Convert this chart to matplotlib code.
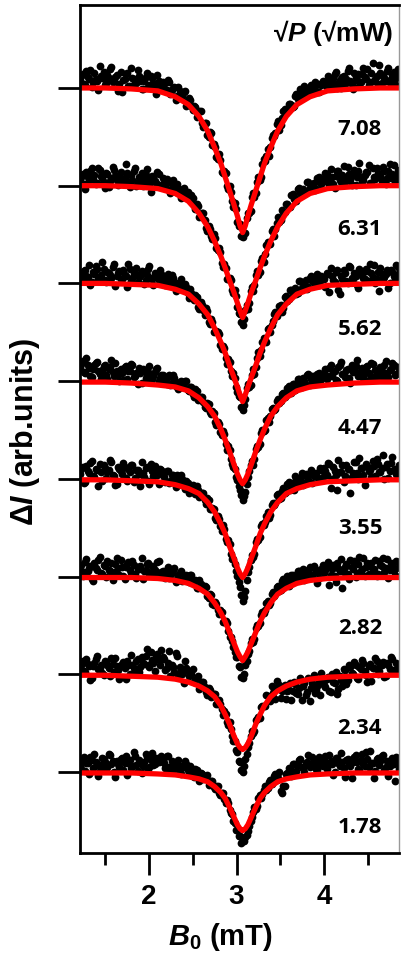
import numpy as np
import matplotlib.pyplot as plt

plt.rcParams['font.family'] = ['Liberation Sans', 'DejaVu Sans']
plt.rcParams['font.weight'] = 'bold'
plt.rcParams['mathtext.fontset'] = 'custom'
plt.rcParams['mathtext.rm'] = 'Liberation Sans:bold'
plt.rcParams['mathtext.it'] = 'Liberation Sans:italic:bold'
plt.rcParams['mathtext.bf'] = 'Liberation Sans:bold'
plt.rcParams['mathtext.sf'] = 'Liberation Sans'

# sqrt of microwave power, top trace first
powers = ['7.08', '6.31', '5.62', '4.47', '3.55', '2.82', '2.34', '1.78']

# field sweeps (mT): two interleaved passes, 0.03 mT steps each
field_a = np.linspace(1.21, 4.87, 123)
field_b = np.linspace(1.225, 4.855, 122)

# measured signal, arb. units relative to each trace baseline (pass a)
sig_708 = [8, 14, 3, 11, 18, 6, 9, -2, 12, 16, 5, 10, 21, 7, 13, 4, -4, 9, 15, 2,
           10, 5, 18, 7, -1, 11, 1, 12, 5, -6, 7, 1,
           4, -2, 6, -2, 1, -8, -3, -8, -3, -12, -12, -23, -19, -25, -24, -40, -36, -50, -46, -57,
           -71, -68, -86, -85, -100, -100, -116, -118, -137, -139, -153, -148, -128, -126, -107, -107,
           -91, -91, -73, -70, -70, -51, -49, -37, -43, -31, -22, -24, -16, -19, -8, -11, -1, -7, -1, -7,
           3, -1, 3, -4, 3,
           6, 1, 10, 5, 14, 0, 8, 11, 4, 17, 7, -1, 11, 14, 6, 20, 9, 3, 15, 7, 12, 24, 5, 10, 17, 8, 13, 4, 19, 11]
sig_631 = [5, 12, -3, 9, 15, 7, 2, 18, 10, 4, 13, -1, 8, 16, 6, 11, 3, 8, 13, -1, 6, 18, 4, 9, 0,
           11, 6, -6, 9, 3, 12, -1,
           3, 7, -4, 2, -4, 2, -7, -4, -12, -6, -14, -13, -24, -21, -29, -28, -43, -41, -51, -49,
           -64, -64, -79, -80, -95, -94, -107, -107, -124, -131, -143, -127, -126, -108, -108, -91,
           -91, -77, -78, -61, -60, -46, -52, -38, -37, -25, -27, -19, -22, -9, -13, -3, -7, -3, -8, 4,
           -1, 3, -3, 9, 2,
           5, 12, 1, 9, -2, 15, 6, 11, 4, 19, 6, 11, 1, 15, 9, 6, 14, 21, 3, 9, 18, 11, 5, 15, 8, 22, 12, 4, 16, 9]
sig_562 = [10, 3, 14, 7, -2, 12, 18, 5, 9, 15, 1, 11, 6, 20, 8, 13, 4, 9, -4, 15, 6, 11, 1, 8, 12,
           3, 15, 6, -2, 8, 3, 10,
           1, 7, -2, 9, 0, -6, 1, -5, -1, -10, -6, -14, -12, -24, -19, -27, -25, -39, -36, -50,
           -49, -52, -67, -66, -82, -80, -95, -97, -111, -116, -130, -118, -103, -104, -88, -86,
           -70, -68, -56, -60, -46, -43, -31, -33, -23, -29, -14, -18, -7, -11, -5, -10, 2, -4, 3, -4,
           8, 2, 5, -2, 8,
           5, 11, -9, 8, 1, 14, -11, 5, 11, 0, 17, 4, 8, -5, 12, 6, 15, 2, 11, 19, 4, -8, 10, 7, 14, 0, 12, 5, 17, 9]
sig_447 = [14, 21, 8, 17, 5, 12, 19, 10, 2, 15, 6, 12, 22, 5, 10, 0, 8, 14, 2, 10, 16, 5, -3, 8, 12,
           3, 9, -1, 5, 12, 0, 6,
           3, -3, 6, -2, 3, -6, -1, -6, 0, -9, -6, -13, -8, -19, -16, -21, -28, -23, -34, -33,
           -45, -44, -55, -54, -70, -71, -85, -90, -101, -111, -122, -113, -98, -86, -86, -69,
           -67, -53, -51, -40, -42, -29, -30, -20, -22, -13, -16, -7, -10, -3, -9, 2, -4, 3, -4, 7,
           2, 5, -2, 8, 2,
           8, 2, 13, 5, 10, 0, 16, 7, 4, 12, -2, 9, 15, 5, 10, 3, 14, 8, 19, 4, 9, 12, 3, 16, 8, 11, 19, 6, 14, 9]
sig_355 = [5, 12, -3, 8, 16, 3, 10, -7, 7, 14, 1, 9, 17, 3, -5, 10, 5, 12, -2, 7, 14, 1, 9, -7, 6,
           11, -2, 15, 3, 7, -5, 9,
           2, 8, -4, 4, -3, 4, -5, 0, -10, -4, -9, -6, -16, -11, -17, -14, -26, -22, -31, -31,
           -42, -41, -53, -51, -65, -67, -82, -87, -99, -111, -125, -115, -95, -83, -80, -65,
           -63, -48, -47, -38, -40, -27, -27, -17, -21, -12, -14, -5, -11, -4, 3, -5, 1, -6, 5, -1,
           9, 3, 6, 0, 9,
           11, 4, 15, 0, 8, -11, 7, 14, 3, 10, -14, 6, 17, 0, 11, 4, 15, 8, 2, 13, 20, 7, 11, 0, 15, 8, 22, 10, 5, 13]
sig_282 = [8, 1, 15, 6, 11, -5, 9, 17, 4, 12, 0, 7, 14, 5, 19, 2, 10, -3, 13, 7, 16, 3, 8, 11, -2,
           7, 14, 4, 10, 1, 16, 5,
           1, 7, -1, 4, 9, -2, 4, -5, 1, -5, 2, -6, -4, -12, -8, -13, -11, -22, -19, -29,
           -28, -38, -36, -47, -48, -62, -66, -77, -82, -93, -104, -91, -79, -68, -67, -53,
           -51, -39, -37, -27, -29, -18, -20, -11, -15, -5, -9, 1, -5, 2, -5, 6, 1, 8, -1, 7,
           2, 11, 5, -1, 8,
           4, 11, -9, 8, 1, 14, 6, -12, 10, 3, 17, 8, 0, 13, 6, 19, 10, 3, 14, 8, 1, 16, 11, 5, 18, 7, 12, 2, 15, 9]
sig_234 = [7, 14, 2, 11, -6, 8, 16, 5, 10, -1, 13, 6, 17, 2, 8, -5, 11, 6, 14, 0, 9, 4, 16, 7, 12,
           19, 9, 23, 12, 19, 15, 25,
           16, 6, 24, 9, 2, 19, 7, 0, 14, 3, -1, 5, -6, -2, -11, -8, -18, -14, -23, -20,
           -30, -26, -36, -38, -49, -49, -63, -68, -80, -90, -100, -87, -74, -63, -60, -47,
           -44, -33, -32, -21, -23, -12, -16, -7, -11, -17, -11, -17, -9, -17, -10, -20, -4, -12, -21, -4,
           -14, -1, -16, -7, 1,
           -11, -5, -17, 0, -9, -20, -2, -12, 4, -6, 7, 0, 10, -5, 5, 12, -1, 8, -7, 6, 14, 3, 10, -3, 12, 5, 16, 2, 8, 11]
sig_178 = [6, 12, 1, 9, 15, 4, 10, -4, 7, 13, 3, 18, 8, 0, 11, 5, 14, 9, -3, 12, 6, 16, 1, 9, 6,
           18, 3, 12, 7, 14, 10, 16,
           9, 16, 5, 11, 3, 9, 0, 6, 11, 2, 6, -3, 3, -5, -1, -7, -5, -13, -9, -15,
           -14, -22, -21, -28, -29, -39, -43, -52, -59, -66, -70, -67, -60, -50, -41, -38,
           -27, -27, -18, -18, -10, -12, -4, -8, 0, -22, -14, -1, 3, 8, 0, 7, 13, 4, 9, 17,
           7, 12, 3, 15, 7,
           12, 3, 17, 8, 0, 14, 6, 10, -5, 13, 6, 10, 17, 3, 12, 8, 20, 5, 9, -6, 13, 7, 16, 2, 11, 6, 14, -9, 9, 12]

# pass b
sig_708b = [12, 4, 17, 9, 1, 15, 7, 22, 10, 3, 13, 19, 6, 11, -3, 16, 8, 14, 2, 20, 9, 5, 12, -1, 7,
            15, 3, 10, 0, 13, 4,
            6, -2, 8, -6, 0, -12, 1, -8, -4, -18, -10, -18, -18, -30, -24, -36, -36, -48, -45, -58,
            -60, -73, -74, -87, -87, -103, -106, -122, -124, -141, -151,
            -148, -133, -128, -112, -112, -96, -94, -78, -75, -62, -60, -48, -46, -34, -38, -24,
            -26, -16, -17, -18, -6, -10, -4, 2, -6, 1, -2, 6, -4, 4, 7,
            5, 12, 0, 10, 16, 5, 0, 12, 9, 20, 4, 15, 8, 2, 14, 11, 19, 6, 26, 9, 4, 15, 12, 7, 20, 3, 16, 10, 14]
sig_631b = [9, 2, 14, 6, 18, 11, 3, 16, 8, -2, 12, 5, 19, 10, 1, 14, 7, 22, 4, 11, 15, 0, 9, 13, 6,
            17, 2, 10, 5, 14, 1,
            8, 0, 4, -8, 6, -6, -2, -13, -2, -9, -14, -10, -20, -19, -32, -28, -35, -46, -44, -55,
            -54, -66, -68, -83, -84, -96, -97, -110, -113, -130, -140,
            -136, -122, -120, -104, -102, -87, -88, -74, -70, -58, -60, -44, -44, -32, -35, -27,
            -19, -22, -10, -14, -16, -2, -6, -8, 4, -2, 2, -4, 8, 4, 7,
            13, 6, 17, 2, 10, 15, 4, 20, 8, 12, 1, 16, 9, 23, 5, 11, 14, 3, 18, 7, 13, 10, 19, 2, 15, 8, 21, 11, 6]
sig_562b = [4, 13, 8, 19, 1, 10, 15, 6, 22, 3, 12, 9, 17, -3, 11, 5, 14, 8, 20, 2, 10, 16, 7, 13, -1,
            9, 18, 4, 11, 7, 14,
            6, -2, 10, 0, 6, -8, 0, 4, -7, -4, -15, -10, -17, -14, -26, -22, -32, -28, -42, -40,
            -49, -50, -63, -64, -76, -77, -90, -92, -106, -115, -126,
            -124, -107, -106, -94, -93, -76, -74, -60, -58, -47, -50, -38, -29, -30, -22, -25,
            -13, -16, -7, -10, -11, 2, -5, 0, -6, 6, 2, -2, 10, 2, 6,
            -4, 10, 16, 3, 12, -7, 8, 14, 2, 18, 6, 11, -2, 15, 9, 4, 13, 20, 7, 0, 12, 16, 5, 10, -5, 14, 8, 19, 11]
sig_447b = [18, 9, 24, 13, 4, 16, 20, 7, 11, 17, 2, 14, 9, 19, 6, 12, 1, 15, 10, 18, 4, 8, 13, -2, 11,
            6, 15, 2, 9, 13, 3,
            6, -1, 4, -4, 6, -2, -8, 0, -6, 0, -10, -6, -16, -10, -18, -16, -26, -22, -32, -31,
            -42, -42, -52, -51, -64, -66, -80, -88, -98, -107, -117,
            -118, -105, -92, -82, -80, -66, -64, -50, -50, -38, -36, -27, -29, -18, -20, -12,
            -14, -5, -12, -3, -6, 2, -6, 0, 6, -4, 5, 2, 7, 0, 6,
            12, 5, 16, 9, 1, 14, 20, 7, 11, 3, 17, 10, 22, 6, 13, 8, 15, 2, 18, 11, 5, 14, 9, 21, 4, 12, 16, 7, 13]
sig_355b = [10, -4, 13, 6, 18, 2, 9, 15, -2, 11, 7, 19, 4, -6, 12, 8, 16, 1, 10, 14, -3, 9, 5, 17, 2,
            12, -5, 8, 13, 4, 10,
            4, -3, 8, -2, 4, -8, -1, 4, -6, -2, -14, -7, -12, -7, -19, -15, -22, -20, -31, -30,
            -40, -38, -48, -47, -62, -63, -77, -82, -94, -106, -119,
            -121, -104, -90, -78, -77, -62, -60, -46, -44, -34, -37, -25, -25, -16, -20, -9,
            -13, -3, -8, -11, 0, -4, 6, -4, 2, 6, -4, 5, 2, 11, 2,
            8, 16, -9, 12, 4, 19, 7, -3, 14, 10, 2, 17, 6, 21, 11, -6, 13, 9, 18, 3, 15, 7, 24, 12, 1, 16, 9, 5, 14]
sig_282b = [12, 5, 18, 9, -2, 14, 7, 20, 3, 11, 16, 6, -4, 13, 9, 17, 1, 10, 15, 4, 12, -1, 8, 19, 6,
            13, 2, 11, 7, 15, 3,
            6, -1, 10, 2, 7, -6, 2, 6, -3, 2, -6, 2, -6, -12, -4, -12, -10, -20, -18, -28,
            -26, -34, -34, -46, -45, -56, -62, -72, -82, -92, -103,
            -100, -86, -76, -64, -64, -50, -48, -36, -34, -25, -27, -16, -18, -10, -14, -3,
            -7, -10, 2, -2, -4, 6, 2, -4, 5, 10, 1, 8, -7, 6, 12,
            7, 15, 2, 12, -6, 9, 18, 5, 13, -2, 10, 16, 4, 20, 8, 1, 14, 11, 6, 17, 3, 12, 19, 9, -1, 14, 7, 16, 10]
sig_234b = [10, 3, 16, 8, -4, 12, 19, 6, 1, 14, 9, -2, 11, 17, 4, 8, 13, -5, 10, 20, 6, 14, 2, 18, 11,
            26, 7, 15, 3, 21, 9,
            18, 4, 12, -2, 7, 22, -1, 4, -9, 6, -2, 0, -8, -4, -15, -8, -13, -21, -16, -22,
            -20, -30, -30, -42, -41, -52, -56, -68, -78, -89, -98,
            -94, -82, -70, -58, -58, -46, -45, -32, -32, -22, -27, -19, -25, -13, -24, -15,
            -25, -16, -26, -8, -19, -14, -26, -9, -18, -27, -9, -19, -12, -21, -9,
            -13, -3, -18, -8, 2, -15, -6, 5, -10, 9, 1, 13, -4, 7, 15, 3, -8, 11, 6, 17, 0, 9, 13, -2, 10, 18, 4, 12, 7]
sig_178b = [3, 15, 9, -2, 12, 18, 7, 1, 14, 10, 5, 17, 11, -5, 8, 13, 2, 16, 9, 4, 20, 7, 12, -1, 10,
            15, 5, 19, 8, 11, 13,
            12, 4, 16, 0, 8, 4, 12, -2, 5, 8, -1, 4, -5, 2, -9, -2, -6, -3, -12, -9,
            -17, -14, -24, -22, -32, -32, -42, -50, -59, -66, -73,
            -71, -64, -55, -46, -36, -35, -24, -23, -14, -16, -8, -10, -2, -6, -19, -14,
            -2, 4, -4, 8, 1, 12, 5, 0, 10, 5, 15, 8, 2, 12, 6,
            16, 7, 11, -3, 14, 9, 19, 4, 12, 8, -6, 15, 10, 2, 18, 6, 13, 21, 9, 1, 14, 11, 17, 5, -4, 12, 8, 15, 3]

# fitted line shapes
fit_field = [1.20, 1.50, 1.80, 2.10, 2.30, 2.45, 2.57, 2.67, 2.75, 2.82, 2.87, 2.92, 2.97, 3.01, 3.04,
             3.07, 3.10, 3.13, 3.17, 3.22, 3.27, 3.32, 3.39, 3.47, 3.57, 3.69, 3.84, 4.04, 4.34, 4.64, 4.90]
fit_708 = [0, 0, -1, -3, -9, -17, -29, -44, -61, -77, -91, -105, -119, -131, -141, -148,
           -141, -131, -119, -105, -91, -77, -61, -44, -29, -17, -9, -3, -1, 0, 0]
fit_631 = [0, 0, -1, -3, -8, -16, -28, -42, -57, -72, -84, -97, -109, -120, -128, -135,
           -128, -120, -109, -97, -84, -72, -57, -42, -28, -16, -8, -3, -1, 0, 0]
fit_562 = [0, 0, -1, -2, -6, -11, -21, -32, -46, -60, -71, -84, -96, -106, -114, -121,
           -114, -106, -96, -84, -71, -60, -46, -32, -21, -11, -6, -2, -1, 0, 0]
fit_447 = [-1, -1, -2, -4, -6, -10, -17, -26, -36, -49, -60, -72, -85, -95, -101, -105,
           -101, -95, -85, -72, -60, -49, -36, -26, -17, -10, -6, -4, -2, -1, -1]
fit_355 = [-1, -1, -2, -3, -6, -10, -15, -24, -34, -46, -56, -69, -81, -91, -97, -101,
           -97, -91, -81, -69, -56, -46, -34, -24, -15, -10, -6, -3, -2, -1, -1]
fit_282 = [-1, -1, -1, -2, -4, -7, -12, -18, -27, -37, -46, -57, -68, -77, -82, -86,
           -82, -77, -68, -57, -46, -37, -27, -18, -12, -7, -4, -2, -1, -1, -1]
fit_234 = [-1, -1, -2, -3, -5, -8, -12, -17, -23, -32, -41, -51, -63, -71, -75, -77,
           -75, -71, -63, -51, -41, -32, -23, -17, -12, -8, -5, -3, -2, -1, -1]
fit_178 = [-1, -1, -1, -2, -3, -5, -7, -10, -15, -21, -27, -36, -46, -54, -58, -60,
           -58, -54, -46, -36, -27, -21, -15, -10, -7, -5, -3, -2, -1, -1, -1]

signals_a = [sig_708, sig_631, sig_562, sig_447, sig_355, sig_282, sig_234, sig_178]
signals_b = [sig_708b, sig_631b, sig_562b, sig_447b, sig_355b, sig_282b, sig_234b, sig_178b]
fits = [fit_708, fit_631, fit_562, fit_447, fit_355, fit_282, fit_234, fit_178]

fig = plt.figure(figsize=(4.01, 9.55), dpi=100)
ax = fig.add_axes([80 / 401, 102 / 955, 319 / 401, 848 / 955])

offsets = []
for j, lab in enumerate(powers):
    base = (len(powers) - 1 - j) * 100
    offsets.append(base)
    ax.plot(field_a, np.array(signals_a[j]) + base, 'o', color='black', ms=5.6, mec='none')
    ax.plot(field_b, np.array(signals_b[j]) + base, 'o', color='black', ms=5.6, mec='none')
    ax.plot(fit_field, np.array(fits[j]) + base, color='#ff0000', lw=3.8)
    ax.text(4.41, base - (43 + 2 * j), lab, ha='center', va='center',
            fontsize=16, family=['Open Sans', 'DejaVu Sans'], fontweight='bold')

ax.set_xlim(1.211, 4.857)
ax.set_ylim(-82.9, 784.9)

ax.set_xticks([2, 3, 4])
ax.set_xticks([1.5, 2.5, 3.5, 4.5], minor=True)
ax.set_yticks(offsets)
ax.set_yticklabels([])
ax.tick_params(axis='x', which='major', direction='out', length=16, width=2, labelsize=20, pad=6)
ax.tick_params(axis='x', which='minor', direction='out', length=8.5, width=2)
ax.tick_params(axis='y', which='major', direction='out', length=16, width=2)

for side in ['left', 'bottom', 'top']:
    ax.spines[side].set_linewidth(2)
ax.spines['right'].set_linewidth(1)
ax.spines['right'].set_color('#999999')

fig.text(220 / 401, 1 - 937 / 955, r'$\it{B}_{0}$ (mT)', ha='center', va='center', fontsize=21)
fig.text(25 / 401, 1 - 432 / 955, r'$\mathsf{\Delta}\it{I}$ (arb.units)', ha='center', va='center',
         rotation=90, fontsize=22)
fig.text(393 / 401, 1 - 33 / 955, r'√$\it{P}$ (√mW)', ha='right', va='center', fontsize=19)

fig.savefig('out.png', dpi=100)
